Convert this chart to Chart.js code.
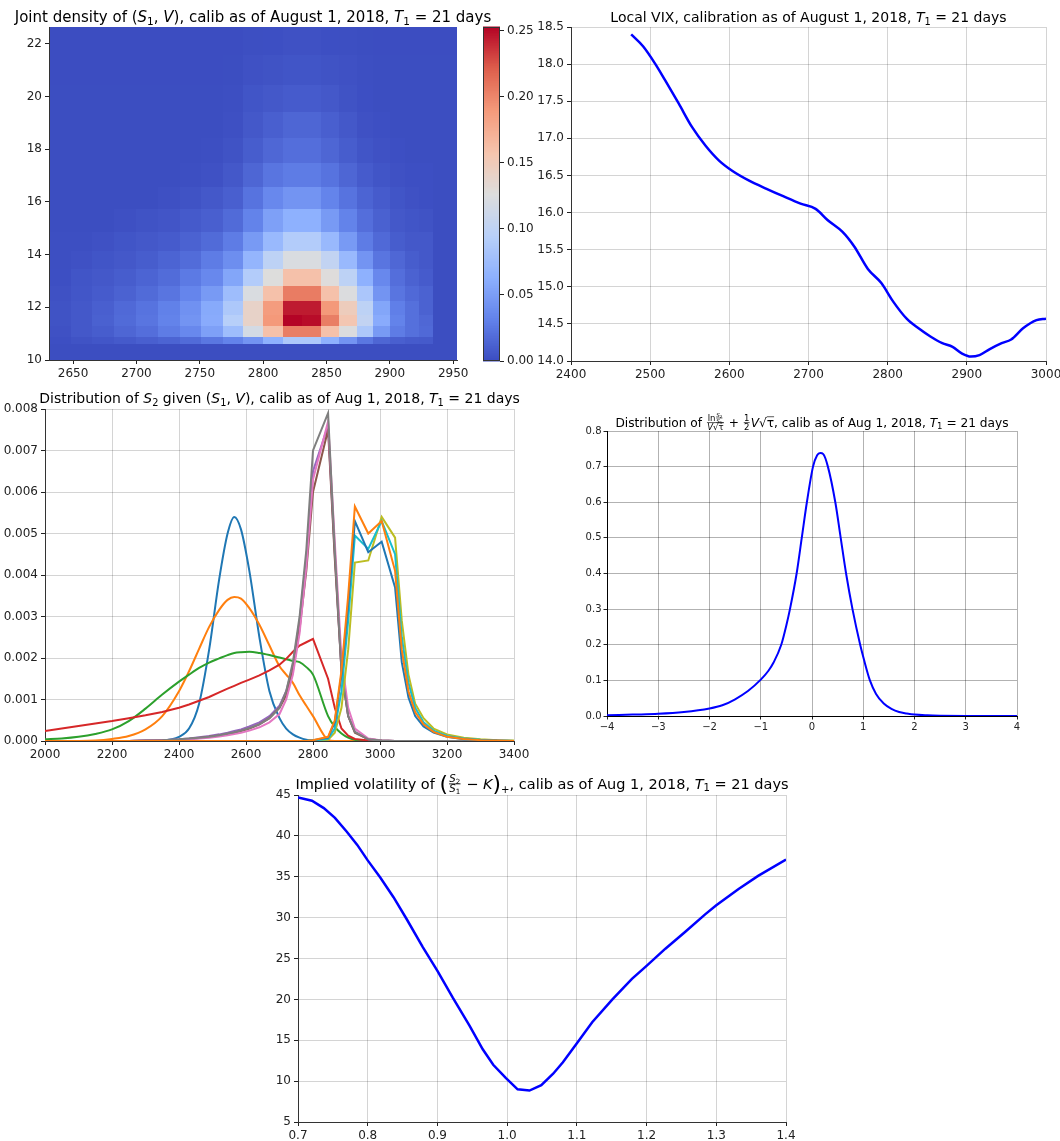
<!DOCTYPE html>
<html>
<head>
<meta charset="utf-8">
<script src="https://cdn.jsdelivr.net/npm/chart.js@4.4.0/dist/chart.umd.min.js"></script>
<style>
  html, body { margin: 0; padding: 0; background: #fff; overflow: hidden; width: 1060px; height: 1141px; }
  canvas { position: absolute; }
</style>
</head>
<body>
<canvas id="heat" width="500" height="385" style="left:0px;top:0px"></canvas>
<canvas id="cbar" width="80" height="385" style="left:460px;top:0px"></canvas>
<canvas id="vix" width="560" height="385" style="left:520px;top:0px"></canvas>
<canvas id="dist" width="540" height="385" style="left:0px;top:380px"></canvas>
<canvas id="stdz" width="520" height="375" style="left:540px;top:380px"></canvas>
<canvas id="ivol" width="560" height="381" style="left:250px;top:760px"></canvas>
<script>
// ---------- joint density (S1, V) ----------
const heatS = [2631, 2648, 2665, 2682, 2700, 2717, 2734, 2751, 2768, 2784, 2800,
               2816, 2831, 2846, 2860, 2874, 2887, 2900, 2912, 2923, 2934, 2953];
const heatV = [10.0, 10.61, 10.88, 11.29, 11.71, 12.24, 12.82, 13.44, 14.15,
               14.87, 15.72, 16.58, 17.47, 18.42, 19.43, 20.44, 21.58, 22.64];
// rows from low V to high V, one value per S1 cell
const heatDensity = [
  [.001,.001,.001,.001,.001,.001,.001,.001,.001,.001,.001,.001,.001,.001,.001,.001,.001,.001,.001,.001,.001],
  [.002,.004,.006,.008,.011,.014,.018,.025,.032,.044,.064,.087,.087,.064,.044,.025,.015,.011,.009,.008,.001],
  [.003,.007,.010,.015,.020,.028,.036,.052,.076,.118,.160,.205,.205,.160,.125,.087,.048,.028,.021,.017,.001],
  [.004,.007,.012,.018,.024,.032,.044,.060,.094,.140,.190,.253,.250,.205,.155,.103,.060,.032,.021,.016,.001],
  [.004,.007,.011,.017,.023,.031,.042,.059,.087,.140,.188,.245,.245,.190,.148,.099,.056,.030,.021,.013,.001],
  [.003,.006,.009,.013,.018,.024,.034,.048,.076,.123,.160,.206,.206,.160,.125,.085,.044,.024,.017,.013,.001],
  [.002,.005,.007,.010,.014,.019,.027,.036,.056,.091,.127,.160,.160,.128,.099,.064,.036,.020,.013,.009,.001],
  [.0016,.003,.005,.007,.010,.014,.019,.028,.040,.068,.099,.123,.123,.103,.072,.044,.024,.016,.010,.007,.001],
  [.0016,.0016,.003,.005,.007,.009,.013,.018,.028,.048,.072,.091,.091,.072,.048,.028,.017,.010,.007,.007,.001],
  [.001,.001,.001,.0024,.004,.0055,.008,.011,.018,.032,.052,.064,.064,.048,.032,.020,.012,.007,.005,.004,.001],
  [.001,.001,.001,.001,.001,.0024,.004,.007,.011,.023,.036,.044,.044,.033,.023,.014,.009,.005,.003,.002,.001],
  [.001,.001,.001,.001,.001,.001,.0016,.003,.007,.015,.024,.028,.028,.023,.015,.009,.005,.003,.002,.002,.001],
  [.001,.001,.001,.001,.001,.001,.001,.0016,.004,.010,.016,.020,.020,.015,.010,.005,.003,.002,.001,.001,.001],
  [.001,.001,.001,.001,.001,.001,.001,.001,.0024,.007,.011,.015,.015,.011,.007,.003,.002,.001,.001,.001,.001],
  [.001,.001,.001,.001,.001,.001,.001,.001,.0016,.005,.007,.009,.009,.007,.004,.002,.001,.001,.001,.001,.001],
  [.0005,.0005,.0005,.0005,.0005,.0005,.0005,.0005,.001,.003,.004,.005,.005,.004,.003,.0015,.001,.001,.001,.001,.001],
  [.0005,.0005,.0005,.0005,.0005,.0005,.0005,.0005,.0005,.0016,.002,.003,.003,.002,.0016,.001,.0005,.0005,.0005,.0005,.0005]
];
const heatMax = 0.2528;
const heatXTicks = [2650, 2700, 2750, 2800, 2850, 2900, 2950];
const heatYTicks = [10, 12, 14, 16, 18, 20, 22];
const cbarTicks = [0, 0.05, 0.10, 0.15, 0.20, 0.25];

// ---------- local VIX ----------
const vixS = [2476, 2491, 2506, 2519, 2536, 2553, 2570, 2587, 2604, 2625, 2647, 2668, 2690, 2709, 2724, 2743, 2758,
              2775, 2792, 2807, 2824, 2839, 2854, 2869, 2882, 2894, 2905, 2916, 2929, 2944, 2956, 2971, 2988, 3000];
const vixLevel = [18.40, 18.24, 18.01, 17.78, 17.47, 17.15, 16.90, 16.70, 16.56, 16.43, 16.32, 16.22, 16.12, 16.05, 15.90, 15.74, 15.54,
                  15.24, 15.05, 14.80, 14.57, 14.44, 14.33, 14.24, 14.19, 14.10, 14.06, 14.08, 14.16, 14.24, 14.29, 14.44, 14.55, 14.57];
const vixXTicks = [2400, 2500, 2600, 2700, 2800, 2900, 3000];
const vixYTicks = [14, 14.5, 15, 15.5, 16, 16.5, 17, 17.5, 18, 18.5];

// ---------- distribution of S2 given (S1, V) ----------
const s2Grid = [2000, 2050, 2100, 2150, 2200, 2250, 2300, 2350, 2400, 2430, 2460, 2490, 2520, 2545, 2565, 2585, 2610, 2640, 2670, 2700,
                2720, 2740, 2760, 2780, 2800, 2845, 2865, 2885, 2905, 2925, 2965, 3005, 3045, 3065, 3085, 3105, 3130, 3160, 3200,
                3250, 3300, 3350, 3400];
const s2Blue = [0, 0, 0, 0, 0, 0, 0, 0.00001, 0.0001, 0.0003, 0.0009, 0.0022, 0.0039, 0.005, 0.0054, 0.0051, 0.0041, 0.0025, 0.0012, 0.00055,
                0.0003, 0.00016, 0.00008, 0.00003, 0.00001, 0, 0, 0, 0, 0, 0, 0, 0, 0, 0, 0, 0, 0, 0, 0, 0, 0, 0];
const s2Orange = [0, 0, 0, 0.00001, 0.00005, 0.00012, 0.00028, 0.0006, 0.0012, 0.00168, 0.00222, 0.00275, 0.00316, 0.0034, 0.00347, 0.00343,
                  0.0032, 0.0028, 0.0023, 0.0018, 0.0016, 0.0014, 0.0011, 0.00085, 0.0006, 0.00003, 0, 0, 0, 0, 0, 0, 0, 0, 0, 0, 0,
                  0, 0, 0, 0, 0, 0];
const s2Green = [0.00004, 0.00006, 0.0001, 0.00017, 0.00028, 0.00048, 0.00078, 0.00112, 0.00143, 0.0016, 0.00176, 0.00189, 0.00199,
                 0.00207, 0.00212, 0.00214, 0.00215, 0.00212, 0.00207, 0.00201, 0.00197, 0.00193, 0.0019, 0.00178, 0.0016, 0.0006,
                 0.00034, 0.00018, 0.00008, 0.00003, 0, 0, 0, 0, 0, 0, 0, 0, 0, 0, 0, 0, 0];
const s2Red = [0.00024, 0.0003, 0.00036, 0.00042, 0.00048, 0.00055, 0.00062, 0.0007, 0.0008, 0.00088, 0.00097, 0.00106, 0.00117,
               0.00126, 0.00133, 0.0014, 0.00148, 0.00158, 0.0017, 0.00184, 0.00198, 0.00215, 0.0023, 0.00238, 0.00246, 0.0015,
               0.0008, 0.0003, 0.00013, 0.00005, 0.00001, 0, 0, 0, 0, 0, 0, 0, 0, 0, 0, 0, 0];
const s2Purple = [0, 0, 0, 0, 0, 0, 0.00001, 0.00002, 0.00004, 0.00006, 0.00009, 0.00012, 0.00016, 0.0002, 0.00024, 0.00028, 0.00035,
                  0.00045, 0.0006, 0.00085, 0.0012, 0.0018, 0.0029, 0.0044, 0.0065, 0.0076, 0.0045, 0.0017, 0.0006, 0.00022, 0.00004,
                  0.00001, 0, 0, 0, 0, 0, 0, 0, 0, 0, 0, 0];
const s2Brown = [0, 0, 0, 0, 0, 0, 0.00001, 0.00002, 0.00003, 0.00005, 0.00007, 0.0001, 0.00013, 0.00017, 0.0002, 0.00024, 0.0003,
                 0.0004, 0.00055, 0.0008, 0.0011, 0.0017, 0.0027, 0.0041, 0.006, 0.0075, 0.0044, 0.0017, 0.0006, 0.0002, 0.00004,
                 0.00001, 0, 0, 0, 0, 0, 0, 0, 0, 0, 0, 0];
const s2Pink = [0, 0, 0, 0, 0, 0, 0.00001, 0.00001, 0.00002, 0.00004, 0.00006, 0.00008, 0.00011, 0.00014, 0.00017, 0.0002, 0.00025,
                0.00033, 0.00045, 0.00065, 0.001, 0.0016, 0.0026, 0.0042, 0.0063, 0.0077, 0.0048, 0.002, 0.0008, 0.0003, 0.00006,
                0.00001, 0, 0, 0, 0, 0, 0, 0, 0, 0, 0, 0];
const s2Gray = [0, 0, 0, 0, 0, 0, 0.00001, 0.00002, 0.00004, 0.00006, 0.00008, 0.0001, 0.00014, 0.00018, 0.00021, 0.00025, 0.00031,
                0.0004, 0.00055, 0.0008, 0.0012, 0.0019, 0.003, 0.0046, 0.007, 0.0079, 0.0046, 0.0017, 0.0006, 0.00022, 0.00004,
                0.00001, 0, 0, 0, 0, 0, 0, 0, 0, 0, 0, 0];
const s2Olive = [0, 0, 0, 0, 0, 0, 0, 0, 0, 0, 0, 0, 0, 0, 0, 0, 0, 0, 0, 0, 0, 0, 0, 0, 0.00001, 0.00003, 0.0002, 0.0008, 0.0022, 0.0043,
                 0.00435, 0.0054, 0.0049, 0.0029, 0.0016, 0.0009, 0.00055, 0.0003, 0.00016, 0.00008, 0.00004, 0.00002, 0.00001];
const s2Cyan = [0, 0, 0, 0, 0, 0, 0, 0, 0, 0, 0, 0, 0, 0, 0, 0, 0, 0, 0, 0, 0, 0, 0, 0, 0.00001, 0.00005, 0.0003, 0.0012, 0.0029, 0.00495,
                0.00463, 0.0053, 0.0045, 0.0025, 0.0014, 0.0008, 0.00045, 0.00025, 0.00012, 0.00006, 0.00003, 0.00001, 0];
const s2Blue2 = [0, 0, 0, 0, 0, 0, 0, 0, 0, 0, 0, 0, 0, 0, 0, 0, 0, 0, 0, 0, 0, 0, 0, 0, 0.00002, 0.00008, 0.00045, 0.0016, 0.0033, 0.0053,
                 0.00455, 0.0048, 0.0037, 0.0019, 0.00105, 0.0006, 0.00035, 0.0002, 0.0001, 0.00004, 0.00002, 0.00001, 0];
const s2Orange2 = [0, 0, 0, 0, 0, 0, 0, 0, 0, 0, 0, 0, 0, 0, 0, 0, 0, 0, 0, 0, 0, 0, 0, 0, 0.00002, 0.0001, 0.0005, 0.0017, 0.0035, 0.00565,
                   0.005, 0.0053, 0.0041, 0.0022, 0.0012, 0.0007, 0.0004, 0.00022, 0.0001, 0.00005, 0.00002, 0.00001, 0];
const s2XTicks = [2000, 2200, 2400, 2600, 2800, 3000, 3200, 3400];
const s2YTicks = [0, 0.001, 0.002, 0.003, 0.004, 0.005, 0.006, 0.007, 0.008];

// ---------- standardized log-return ----------
const zGrid = [-4, -3.5, -3, -2.5, -2, -1.75, -1.5, -1.25, -1, -0.85, -0.75, -0.6, -0.5, -0.43, -0.3, -0.2, -0.1, 0.02, 0.1,
               0.16, 0.22, 0.31, 0.455, 0.56, 0.665, 0.79, 0.94, 1.02, 1.13, 1.25, 1.4, 1.55, 1.7, 1.85, 2, 2.25, 2.5, 3, 3.5, 4];
const zDensity = [0.002, 0.004, 0.006, 0.011, 0.021, 0.03, 0.047, 0.07, 0.102, 0.127, 0.15, 0.2, 0.255, 0.3, 0.4, 0.5, 0.6, 0.7, 0.732,
                  0.738, 0.735, 0.7, 0.6, 0.5, 0.4, 0.3, 0.2, 0.155, 0.1, 0.062, 0.035, 0.02, 0.011, 0.007, 0.004, 0.002, 0.001, 0.0002, 0, 0];
const zXTicks = [-4, -3, -2, -1, 0, 1, 2, 3, 4];
const zYTicks = [0, 0.1, 0.2, 0.3, 0.4, 0.5, 0.6, 0.7, 0.8];

// ---------- implied volatility of forward-start call ----------
const ivStrike = [0.7, 0.72, 0.737, 0.753, 0.77, 0.785, 0.8, 0.818, 0.837, 0.856, 0.879, 0.9, 0.922, 0.946, 0.965, 0.98, 0.998,
                  1.015, 1.032, 1.049, 1.066, 1.08, 1.099, 1.122, 1.151, 1.179, 1.2, 1.227, 1.256, 1.284, 1.3, 1.332, 1.36, 1.4];
const ivVol = [44.7, 44.3, 43.4, 42.2, 40.5, 38.9, 37.0, 34.9, 32.5, 29.8, 26.4, 23.5, 20.2, 16.8, 13.9, 12.0, 10.4,
               9.0, 8.85, 9.5, 10.9, 12.3, 14.5, 17.2, 20.0, 22.5, 24.1, 26.2, 28.3, 30.4, 31.5, 33.5, 35.1, 37.1];
const ivXTicks = [0.7, 0.8, 0.9, 1.0, 1.1, 1.2, 1.3, 1.4];
const ivYTicks = [5, 10, 15, 20, 25, 30, 35, 40, 45];

// ---------- helpers ----------
Chart.defaults.font.family = "'DejaVu Sans', sans-serif";
Chart.defaults.font.size = 12;
Chart.defaults.color = '#222';

const coolwarmStops = [[59, 76, 192], [98, 130, 234], [141, 176, 254], [184, 208, 249], [221, 221, 221],
                       [245, 196, 173], [244, 154, 123], [222, 96, 77], [180, 4, 38]];
function coolwarm(t) {
  t = Math.min(1, Math.max(0, t)) * 8;
  const i = Math.min(7, Math.floor(t)), f = t - i;
  const a = coolwarmStops[i], b = coolwarmStops[i + 1];
  return 'rgb(' + a.map((c, k) => Math.round(c + (b[k] - c) * f)).join(',') + ')';
}

function linAxis(o) {
  return {
    type: 'linear', position: o.pos, min: o.min, max: o.max, display: o.display !== false,
    afterBuildTicks: s => { s.ticks = o.ticks.map(v => ({ value: v })); },
    afterFit: s => { if (o.w !== undefined) s.width = o.w; if (o.h !== undefined) s.height = o.h; },
    ticks: { callback: o.fmt, padding: o.pad ?? 3, maxRotation: 0, minRotation: 0, autoSkip: false,
             font: { size: o.font || 12 }, color: '#222' },
    grid: { drawOnChartArea: !!o.grid, color: o.grid || 'rgba(0,0,0,0)', lineWidth: o.gw || 1,
            drawTicks: true, tickLength: o.tl ?? 4, tickColor: '#222', tickWidth: 1 },
    border: { display: o.border !== false, color: o.bc || '#333', width: 1, z: o.bz || 0 }
  };
}

// rich title text (italic symbols, subscripts, fractions)
function segWidth(ctx, g, size) {
  if (g.frac) {
    const s = size * g.sc;
    return Math.max(measureSegs(ctx, g.frac[0], s), measureSegs(ctx, g.frac[1], s)) + size * 0.2;
  }
  ctx.font = (g.it ? 'italic ' : '') + (size * (g.sc || 1)) + "px 'DejaVu Sans'";
  return ctx.measureText(g.t).width;
}
function measureSegs(ctx, segs, size) {
  let w = 0;
  for (const g of segs) w += segWidth(ctx, g, size);
  return w;
}
function drawSegs(ctx, segs, x, y, size) {
  for (const g of segs) {
    const w = segWidth(ctx, g, size);
    if (g.frac) {
      const s = size * g.sc;
      const bar = y - size * 0.32;
      const wn = measureSegs(ctx, g.frac[0], s), wd = measureSegs(ctx, g.frac[1], s);
      drawSegs(ctx, g.frac[0], x + (w - wn) / 2, bar - s * 0.22, s);
      drawSegs(ctx, g.frac[1], x + (w - wd) / 2, bar + s * 0.82, s);
      ctx.lineWidth = Math.max(0.6, size * 0.055);
      ctx.beginPath(); ctx.moveTo(x + size * 0.08, bar); ctx.lineTo(x + w - size * 0.08, bar); ctx.stroke();
    } else {
      const yy = y + (g.dy || 0) * size;
      ctx.fillText(g.t, x, yy);
      if (g.ov) {
        ctx.lineWidth = Math.max(0.6, size * 0.055);
        const oy = yy - size * (g.sc || 1) * 0.8;
        ctx.beginPath(); ctx.moveTo(x, oy); ctx.lineTo(x + w, oy); ctx.stroke();
      }
    }
    x += w;
  }
}
const richTitle = {
  id: 'richTitle',
  afterDraw(chart, args, opts) {
    if (!opts.segs) return;
    const ctx = chart.ctx, a = chart.chartArea;
    ctx.save();
    ctx.fillStyle = '#000'; ctx.strokeStyle = '#000'; ctx.textBaseline = 'alphabetic'; ctx.textAlign = 'left';
    const w = measureSegs(ctx, opts.segs, opts.size);
    drawSegs(ctx, opts.segs, (a.left + a.right) / 2 - w / 2, a.top - opts.gap, opts.size);
    ctx.restore();
  }
};
const txt = t => ({ t });
const it = t => ({ t, it: true });
const sub = t => ({ t, sc: 0.7, dy: 0.2 });
const tail = [txt(', calib as of Aug 1, 2018, '), it('T'), sub('1'), txt(' = 21 days')];

const baseOpts = { responsive: false, animation: false, devicePixelRatio: 1, events: [] };

// ---------- heatmap ----------
const heatCells = {
  id: 'heatCells',
  beforeDatasetsDraw(chart) {
    const { ctx, scales: { x, y } } = chart;
    ctx.save();
    heatDensity.forEach((row, r) => {
      const y0 = Math.round(y.getPixelForValue(heatV[r])), y1 = Math.round(y.getPixelForValue(heatV[r + 1]));
      row.forEach((d, c) => {
        const x0 = Math.round(x.getPixelForValue(heatS[c])), x1 = Math.round(x.getPixelForValue(heatS[c + 1]));
        ctx.fillStyle = coolwarm(d / heatMax);
        ctx.fillRect(x0, y1, x1 - x0, y0 - y1);
      });
    });
    ctx.restore();
  }
};
new Chart(document.getElementById('heat'), {
  type: 'scatter',
  data: { datasets: [] },
  options: Object.assign({}, baseOpts, {
    layout: { padding: { left: 0, top: 27, right: 43, bottom: 0 } },
    plugins: { legend: { display: false }, tooltip: { enabled: false },
      richTitle: { size: 15, gap: 5, segs: [txt('Joint density of ('), it('S'), sub('1'), txt(', '), it('V'),
        txt('), calib as of August 1, 2018, '), it('T'), sub('1'), txt(' = 21 days')] } },
    scales: {
      x: linAxis({ pos: 'bottom', min: heatS[0], max: heatS[heatS.length - 1], ticks: heatXTicks, fmt: v => String(v), h: 25, bz: 1 }),
      y: linAxis({ pos: 'left', min: heatV[0], max: heatV[heatV.length - 1], ticks: heatYTicks, fmt: v => String(v), w: 49, bz: 1 })
    }
  }),
  plugins: [heatCells, richTitle]
});

// ---------- colorbar ----------
const cbarFill = {
  id: 'cbarFill',
  beforeDatasetsDraw(chart) {
    const { ctx, chartArea: a, scales: { y } } = chart;
    ctx.save();
    const n = 200;
    for (let i = 0; i < n; i++) {
      const v0 = heatMax * i / n, v1 = heatMax * (i + 1) / n;
      const p0 = y.getPixelForValue(v0), p1 = y.getPixelForValue(v1);
      ctx.fillStyle = coolwarm((v0 + v1) / 2 / heatMax);
      ctx.fillRect(a.left, p1 - 0.5, a.right - a.left, p0 - p1 + 1);
    }
    ctx.strokeStyle = '#333'; ctx.lineWidth = 1;
    ctx.strokeRect(a.left + 0.5, a.top + 0.5, a.right - a.left - 1, a.bottom - a.top - 1);
    ctx.restore();
  }
};
new Chart(document.getElementById('cbar'), {
  type: 'scatter',
  data: { datasets: [] },
  options: Object.assign({}, baseOpts, {
    layout: { padding: { left: 23, top: 27, right: 0, bottom: 24 } },
    plugins: { legend: { display: false }, tooltip: { enabled: false } },
    scales: {
      x: { type: 'linear', display: false, min: 0, max: 1 },
      y: linAxis({ pos: 'right', min: 0, max: heatMax, ticks: cbarTicks, fmt: v => v.toFixed(2), w: 40, border: false })
    }
  }),
  plugins: [cbarFill]
});

// ---------- local VIX ----------
const lightGrid = 'rgba(0,0,0,0.17)';
new Chart(document.getElementById('vix'), {
  type: 'scatter',
  data: { datasets: [{ data: vixS.map((s, i) => ({ x: s, y: vixLevel[i] })), showLine: true, borderColor: '#0000ff',
                       borderWidth: 2.5, pointRadius: 0, cubicInterpolationMode: 'monotone' }] },
  options: Object.assign({}, baseOpts, {
    layout: { padding: { left: 0, top: 27, right: 34, bottom: 0 } },
    plugins: { legend: { display: false }, tooltip: { enabled: false },
      richTitle: { size: 14, gap: 5, segs: [txt('Local VIX, calibration as of August 1, 2018, '), it('T'), sub('1'), txt(' = 21 days')] } },
    scales: {
      x: linAxis({ pos: 'bottom', min: 2400, max: 3000, ticks: vixXTicks, fmt: v => String(v), h: 24, grid: lightGrid }),
      y: linAxis({ pos: 'left', min: 14, max: 18.5, ticks: vixYTicks, fmt: v => v.toFixed(1), w: 51, grid: lightGrid })
    }
  }),
  plugins: [richTitle]
});

// ---------- distribution of S2 ----------
const s2Series = [
  [s2Blue, '#1f77b4', true], [s2Orange, '#ff7f0e', true], [s2Green, '#2ca02c', true], [s2Red, '#d62728', false],
  [s2Purple, '#9467bd', false], [s2Brown, '#8c564b', false], [s2Pink, '#e377c2', false], [s2Gray, '#7f7f7f', false],
  [s2Olive, '#bcbd22', false], [s2Cyan, '#17becf', false], [s2Blue2, '#1f77b4', false], [s2Orange2, '#ff7f0e', false]
];
new Chart(document.getElementById('dist'), {
  type: 'scatter',
  data: { datasets: s2Series.map(([vals, color, smooth], i) => ({
    data: s2Grid.map((s, k) => ({ x: s, y: vals[k] })), showLine: true, borderColor: color, borderWidth: 2,
    pointRadius: 0, order: s2Series.length - i, cubicInterpolationMode: smooth ? 'monotone' : 'default', tension: 0
  })) },
  options: Object.assign({}, baseOpts, {
    layout: { padding: { left: 0, top: 29, right: 26, bottom: 0 } },
    plugins: { legend: { display: false }, tooltip: { enabled: false },
      richTitle: { size: 14, gap: 6, segs: [txt('Distribution of '), it('S'), sub('2'), txt(' given ('), it('S'), sub('1'),
        txt(', '), it('V'), txt(')')].concat(tail) } },
    scales: {
      x: linAxis({ pos: 'bottom', min: 2000, max: 3400, ticks: s2XTicks, fmt: v => String(v), h: 24, grid: lightGrid }),
      y: linAxis({ pos: 'left', min: 0, max: 0.008, ticks: s2YTicks, fmt: v => v.toFixed(3), w: 45, grid: lightGrid })
    }
  }),
  plugins: [richTitle]
});

// ---------- standardized distribution ----------
const darkGrid = 'rgba(0,0,0,0.3)';
new Chart(document.getElementById('stdz'), {
  type: 'scatter',
  data: { datasets: [{ data: zGrid.map((z, i) => ({ x: z, y: zDensity[i] })), showLine: true, borderColor: '#0000ff',
                       borderWidth: 2, pointRadius: 0, cubicInterpolationMode: 'monotone' }] },
  options: Object.assign({}, baseOpts, {
    layout: { padding: { left: 0, top: 51, right: 43, bottom: 19 } },
    plugins: { legend: { display: false }, tooltip: { enabled: false },
      richTitle: { size: 12.2, gap: 4.5, segs: [txt('Distribution of '),
        { frac: [[txt('ln'), { frac: [[it('S'), sub('2')], [it('S'), sub('1')]], sc: 0.65 }],
                 [it('V'), txt('√'), { t: 'τ', ov: true }]], sc: 0.7 },
        txt(' + '), { frac: [[txt('1')], [txt('2')]], sc: 0.7 }, it('V'), txt('√'), { t: 'τ', ov: true }].concat(tail) } },
    scales: {
      x: linAxis({ pos: 'bottom', min: -4, max: 4, ticks: zXTicks, fmt: v => String(v).replace('-', '\u2212'), h: 20,
                   grid: darkGrid, font: 10, bc: '#000', tl: 3.5, pad: 2 }),
      y: linAxis({ pos: 'left', min: 0, max: 0.8, ticks: zYTicks, fmt: v => v.toFixed(1), w: 67, grid: darkGrid, font: 10,
                   bc: '#000', tl: 3.5, pad: 2 })
    }
  }),
  plugins: [richTitle]
});

// ---------- implied volatility ----------
new Chart(document.getElementById('ivol'), {
  type: 'scatter',
  data: { datasets: [{ data: ivStrike.map((k, i) => ({ x: k, y: ivVol[i] })), showLine: true, borderColor: '#0000ff',
                       borderWidth: 2.5, pointRadius: 0, tension: 0 }] },
  options: Object.assign({}, baseOpts, {
    layout: { padding: { left: 0, top: 35, right: 24, bottom: 0 } },
    plugins: { legend: { display: false }, tooltip: { enabled: false },
      richTitle: { size: 14.5, gap: 6.5, segs: [txt('Implied volatility of '), { t: '(', sc: 1.5, dy: 0.14 },
        { frac: [[it('S'), sub('2')], [it('S'), sub('1')]], sc: 0.7 }, txt(' \u2212 '), it('K'), { t: ')', sc: 1.5, dy: 0.14 },
        { t: '+', sc: 0.7, dy: 0.3 }].concat(tail) } },
    scales: {
      x: linAxis({ pos: 'bottom', min: 0.7, max: 1.4, ticks: ivXTicks, fmt: v => v.toFixed(1), h: 19, grid: lightGrid }),
      y: linAxis({ pos: 'left', min: 5, max: 45, ticks: ivYTicks, fmt: v => String(v), w: 48, grid: lightGrid })
    }
  }),
  plugins: [richTitle]
});
</script>
</body>
</html>
